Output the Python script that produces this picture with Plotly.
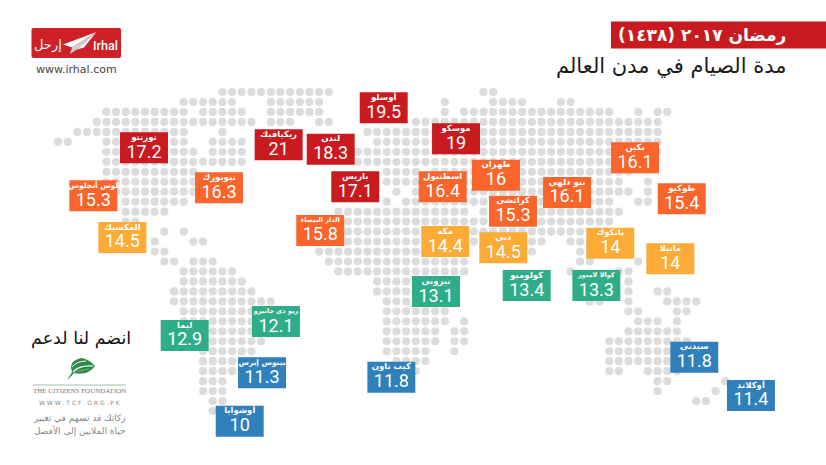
import plotly.graph_objects as go

# cities, fasting hours and where each card sits on the dot grid (column, row)
cities = ["تورنتو", "ريكيافيك", "لندن", "أوسلو", "باريس", "نيويورك", "لوس أنجلوس", "المكسيك", "الدار البيضاء", "موسكو",
          "طهران", "اسطنبول", "بكين", "نيو دلهي", "طوكيو", "كراتشي", "مكه", "دبي", "بانكوك", "مانيلا",
          "كولومبو", "كوالا لامبور", "نيروبي", "ريو دي جانيرو", "ليما", "بينوس إيرس", "كيب تاون", "أوشوايا", "سيدني", "أوكلاند"]
hours = [17.2, 21, 18.3, 19.5, 17.1, 16.3, 15.3, 14.5, 15.8, 19,
         16, 16.4, 16.1, 16.1, 15.4, 15.3, 14.4, 14.5, 14, 14,
         13.4, 13.3, 13.1, 12.1, 12.9, 11.3, 11.8, 10, 11.8, 11.4]
card_col = [8.89, 22.82, 28.2, 33.68, 30.74, 16.65, 3.65, 6.65, 27.12, 41.16,
            45.29, 39.78, 59.67, 52.64, 64.5, 47.05, 40.05, 46.05, 57.11, 63.32,
            48.47, 55.67, 39.09, 22.54, 13.1, 21.1, 34.47, 18.79, 65.8, 71.66]
card_row = [5.6, 5.3, 5.74, 1.58, 9.51, 9.61, 10.41, 14.59, 13.89, 4.69,
            8.35, 9.51, 6.6, 10.08, 10.71, 11.96, 15.0, 15.63, 15.17, 16.73,
            19.41, 19.41, 20.01, 23.02, 24.42, 28.16, 28.6, 33.02, 26.6, 30.43]

# dotted world map: row -> runs of columns
map_rows = {
    0: [(17, 28), (44, 45)],
    1: [(13, 18), (22, 27), (40, 40), (45, 48), (52, 53)],
    2: [(5, 13), (15, 19), (22, 27), (40, 40), (42, 57), (60, 60), (62, 63)],
    3: [(4, 20), (22, 24), (27, 28), (37, 62)],
    4: [(2, 13), (17, 17), (32, 62)],
    5: [(0, 1), (5, 13), (16, 19), (33, 62)],
    6: [(5, 14), (16, 19), (31, 62)],
    7: [(5, 19), (31, 60)],
    8: [(5, 14), (34, 37), (39, 59)],
    9: [(5, 14), (34, 37), (39, 58), (61, 61)],
    10: [(6, 14), (35, 35), (37, 59), (61, 61)],
    11: [(7, 13), (34, 34), (36, 57), (60, 61)],
    12: [(7, 11), (29, 42), (44, 58)],
    13: [(7, 8), (29, 57)],
    14: [(11, 11), (13, 13), (29, 54)],
    15: [(10, 10), (14, 15), (30, 43), (49, 50), (53, 54)],
    16: [(10, 11), (27, 41), (49, 49), (54, 54)],
    17: [(11, 12), (14, 16), (28, 42), (54, 55), (60, 60)],
    18: [(13, 18), (29, 42), (53, 53), (58, 59)],
    19: [(13, 19), (33, 41), (59, 59)],
    20: [(12, 20), (33, 41), (59, 59), (62, 63)],
    21: [(12, 22), (34, 41), (55, 56), (59, 59), (63, 66)],
    22: [(13, 21), (34, 40), (59, 60), (64, 65)],
    23: [(13, 21), (34, 40), (42, 42), (60, 62), (64, 64)],
    24: [(15, 21), (34, 39), (41, 42), (59, 64)],
    25: [(15, 21), (34, 39), (41, 42), (57, 65)],
    26: [(15, 20), (34, 38), (41, 41), (57, 64)],
    27: [(15, 18), (35, 38), (57, 64)],
    28: [(15, 18), (36, 37), (57, 58), (61, 64)],
    29: [(15, 17), (62, 63), (69, 69)],
    30: [(15, 17), (62, 62), (68, 68)],
    31: [(16, 17), (66, 67)],
    32: [(16, 16)],
}

W, H = 826, 465
CARD_W, CARD_H = 4.96, 3.11
ARABIC = "DejaVu Sans"
NUM_FONT = "Roboto"


def card_color(h):
    if h >= 17:
        return "#c81a1f"
    if h >= 15:
        return "#f9652b"
    if h >= 14:
        return "#fbab36"
    if h >= 12:
        return "#2fad88"
    return "#2f80bb"


def name_size(name):
    # long names have to shrink to stay inside the 48px card
    if len(name) >= 12:
        return 6.5
    if len(name) >= 9:
        return 7.5
    return 8.5


def px(x):
    return x / W


def py(y):
    return 1 - y / H


dot_x, dot_y = [], []
for row, runs in map_rows.items():
    for start, end in runs:
        for col in range(start, end + 1):
            dot_x.append(col)
            dot_y.append(row)

fig = go.Figure()

# dots on the lower axes so the cards stay on top
fig.add_trace(go.Scatter(x=dot_x, y=dot_y, mode="markers",
                         marker=dict(size=8.2, color="#dcdcdc"), hoverinfo="skip"))

fig.add_trace(go.Bar(x=card_col, y=[CARD_H] * len(hours),
                     base=[r - CARD_H / 2 for r in card_row], width=CARD_W,
                     marker=dict(color=[card_color(h) for h in hours], line_width=0),
                     xaxis="x2", yaxis="y2", hoverinfo="skip"))

fig.add_trace(go.Scatter(x=card_col, y=[r - 1.0 for r in card_row], mode="text", text=cities,
                         textfont=dict(family=ARABIC, size=[name_size(c) for c in cities],
                                       color="white", weight="bold"),
                         xaxis="x2", yaxis="y2", hoverinfo="skip"))

fig.add_trace(go.Scatter(x=card_col, y=[r + 0.55 for r in card_row], mode="text",
                         text=[str(h) for h in hours],
                         textfont=dict(family=NUM_FONT, size=18, color="white"),
                         xaxis="x2", yaxis="y2", hoverinfo="skip"))


def note(x, y, text, size, color="#222222", family=ARABIC, weight="normal"):
    fig.add_annotation(x=px(x), y=py(y), xref="paper", yref="paper", text=text, showarrow=False,
                       font=dict(family=family, size=size, color=color, weight=weight),
                       xanchor="center", yanchor="middle")


def poly(points, color):
    path = "M " + " L ".join(f"{px(x):.4f} {py(y):.4f}" for x, y in points) + " Z"
    return dict(type="path", xref="paper", yref="paper", path=path,
                fillcolor=color, line_width=0, layer="above")


def curve(path, color, width=0):
    return dict(type="path", xref="paper", yref="paper", path=path, fillcolor=color,
                line=dict(color=color, width=width), layer="above")


def vein(path, color, width):
    return dict(type="path", xref="paper", yref="paper", path=path,
                line=dict(color=color, width=width), layer="above")


def p(x, y):
    return f"{px(x):.4f} {py(y):.4f}"


shapes = [
    # title banner
    dict(type="rect", xref="paper", yref="paper", x0=px(611), x1=1, y0=py(48.5), y1=py(21.5),
         fillcolor="#c81a1f", line_width=0),
    # irhal logo
    curve(f"M {p(33.5, 28)} L {p(119, 28)} Q {p(121, 28)} {p(121, 30)} L {p(121, 56)} Q {p(121, 58)} {p(119, 58)} "
          f"L {p(33.5, 58)} Q {p(31.5, 58)} {p(31.5, 56)} L {p(31.5, 30)} Q {p(31.5, 28)} {p(33.5, 28)} Z", "#cf2027"),
    poly([(96.5, 32), (63, 44.5), (72, 47.5)], "white"),
    poly([(96.5, 32), (72, 47.5), (70, 54), (77, 49.5)], "#cfcfcf"),
    poly([(96.5, 32), (77, 49.5), (84, 47.5)], "white"),
    # citizens foundation rule
    dict(type="line", xref="paper", yref="paper", x0=px(33), x1=px(126), y0=py(385), y1=py(385),
         line=dict(color="#9dc3b0", width=1.2)),
    # leaf
    curve(f"M {p(67, 380)} Q {p(70, 376)} {p(72, 372)} Q {p(68, 360)} {p(82, 358)} Q {p(90, 360)} {p(95, 366)} "
          f"Q {p(88, 376)} {p(74, 373)} Q {p(71, 377)} {p(67, 380)} Z", "#2f8b4a"),
    vein(f"M {p(73, 372)} Q {p(79, 365)} {p(93, 366)}", "white", 1.2),
    vein(f"M {p(72, 367)} Q {p(76, 361.5)} {p(86, 361)}", "white", 0.9),
    vein(f"M {p(76, 371)} Q {p(82, 371)} {p(89, 369)}", "#7fb98d", 0.8),
]

note(702, 35, "رمضان ٢٠١٧ (١٤٣٨)", 17, color="white", weight="bold")
note(671, 66, "مدة الصيام في مدن العالم", 21, color="#1a1a1a")
note(105, 45.5, "Irhal", 12.5, color="white", family="Roboto", weight=500)
note(47.5, 45, "إرحل", 13, color="white")
note(76, 70, "www.irhal.com", 11, color="#444444")
note(81, 338, "انضم لنا لدعم", 17.5, color="#111111")
note(79.5, 391, "THE CITIZENS FOUNDATION", 7, color="#777777", family="Liberation Serif")
note(79.5, 402, "W W W . T C F . O R G . P K", 6, color="#888888")
note(79.5, 418.5, "زكاتك قد تسهم في تغيير", 9, color="#888888")
note(79.5, 431, "حياة الملايين إلى الأفضل", 9, color="#888888")

x_range = [-6.0, 79.42]
y_range = [37.41, -9.228]
fig.update_layout(
    width=W, height=H, margin=dict(l=0, r=0, t=0, b=0),
    paper_bgcolor="white", plot_bgcolor="white", showlegend=False,
    barmode="overlay", shapes=shapes,
    xaxis=dict(range=x_range, visible=False, fixedrange=True),
    yaxis=dict(range=y_range, visible=False, fixedrange=True),
    xaxis2=dict(range=x_range, visible=False, overlaying="x", fixedrange=True),
    yaxis2=dict(range=y_range, visible=False, overlaying="y", fixedrange=True),
)

# browser default body margin would push everything 8px off
fig.write_html("out.html", config=dict(displayModeBar=False),
               post_script="document.body.style.margin='0';")
